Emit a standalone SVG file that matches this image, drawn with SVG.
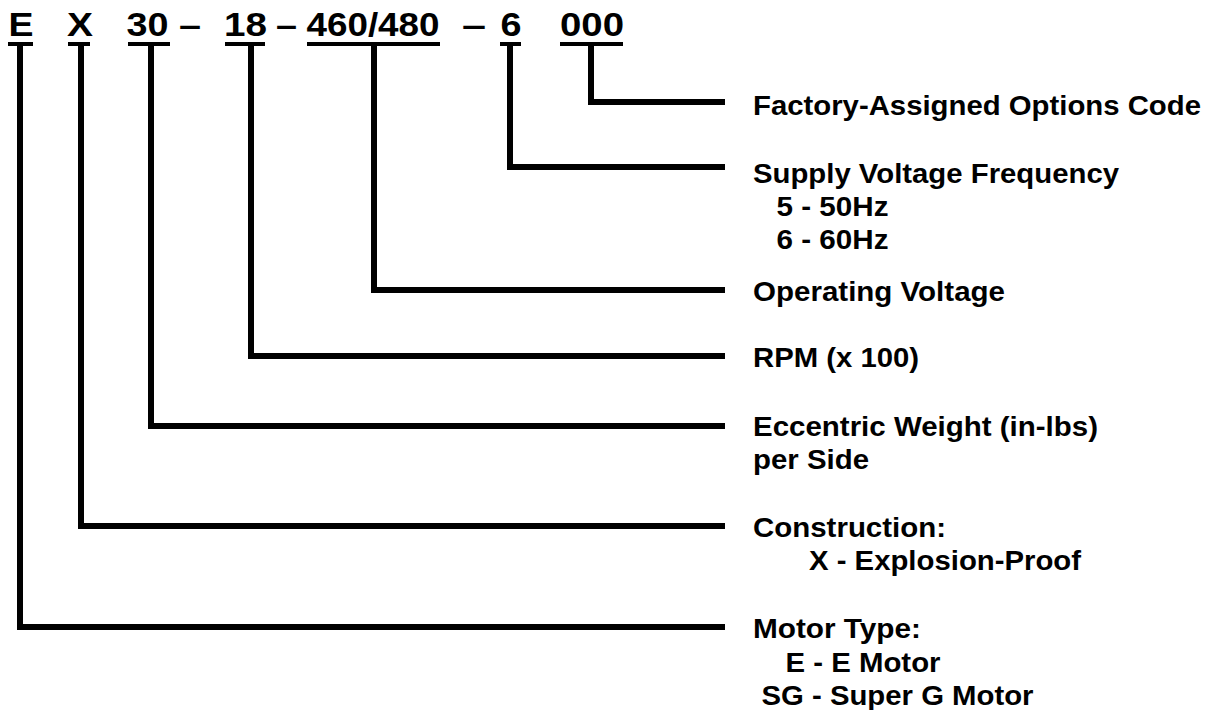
<svg xmlns="http://www.w3.org/2000/svg" width="1215" height="710" viewBox="0 0 1215 710">
<style>
.code{font-family:"Liberation Sans",Arial,sans-serif;font-weight:bold;font-size:33px;fill:#000}
.lbl{font-family:"Liberation Sans",Arial,sans-serif;font-weight:bold;font-size:28px;fill:#000}
.ul{fill:#000}
.conn{fill:none;stroke:#000;stroke-width:6;stroke-linejoin:miter;stroke-linecap:butt}
</style>
<rect width="1215" height="710" fill="#fff"/>
<g id="code">
  <g id="seg-E"><text class="code" x="8.5" y="36" textLength="25" lengthAdjust="spacingAndGlyphs">E</text><rect class="ul" x="8" y="42" width="25" height="4"/></g>
  <g id="seg-X"><text class="code" x="67" y="36" textLength="26" lengthAdjust="spacingAndGlyphs">X</text><rect class="ul" x="68" y="42" width="22" height="4"/></g>
  <g id="seg-30"><text class="code" x="126.5" y="36" textLength="42" lengthAdjust="spacingAndGlyphs">30</text><rect class="ul" x="128" y="42" width="42" height="4"/></g>
  <text class="code" x="179" y="36" textLength="22" lengthAdjust="spacingAndGlyphs">–</text>
  <g id="seg-18"><text class="code" x="224" y="36" textLength="43" lengthAdjust="spacingAndGlyphs">18</text><rect class="ul" x="225" y="42" width="40" height="4"/></g>
  <text class="code" x="276" y="36" textLength="21" lengthAdjust="spacingAndGlyphs">–</text>
  <g id="seg-460"><text class="code" x="306.5" y="36" textLength="133" lengthAdjust="spacingAndGlyphs">460/480</text><rect class="ul" x="307" y="42" width="133" height="4"/></g>
  <text class="code" x="462" y="36" textLength="24" lengthAdjust="spacingAndGlyphs">–</text>
  <g id="seg-6"><text class="code" x="500.5" y="36" textLength="21" lengthAdjust="spacingAndGlyphs">6</text><rect class="ul" x="500" y="42" width="21" height="4"/></g>
  <g id="seg-000"><text class="code" x="560" y="36" textLength="64" lengthAdjust="spacingAndGlyphs">000</text><rect class="ul" x="560" y="42" width="63" height="4"/></g>
</g>
<g id="connectors">
  <polyline class="conn" points="591,46 591,102 725,102"/>
  <polyline class="conn" points="510,46 510,167 725,167"/>
  <polyline class="conn" points="374,46 374,290 725,290"/>
  <polyline class="conn" points="251,46 251,356 725,356"/>
  <polyline class="conn" points="151,46 151,426 725,426"/>
  <polyline class="conn" points="81,46 81,526 725,526"/>
  <polyline class="conn" points="20,46 20,627 725,627"/>
</g>
<g id="lbl-options"><text class="lbl" x="753" y="115" textLength="448" lengthAdjust="spacingAndGlyphs">Factory-Assigned Options Code</text></g>
<g id="lbl-frequency">
  <text class="lbl" x="753" y="183" textLength="366" lengthAdjust="spacingAndGlyphs">Supply Voltage Frequency</text>
  <text class="lbl" x="776.5" y="216" textLength="112" lengthAdjust="spacingAndGlyphs">5 - 50Hz</text>
  <text class="lbl" x="776.5" y="249" textLength="112" lengthAdjust="spacingAndGlyphs">6 - 60Hz</text>
</g>
<g id="lbl-voltage"><text class="lbl" x="753" y="301" textLength="252" lengthAdjust="spacingAndGlyphs">Operating Voltage</text></g>
<g id="lbl-rpm"><text class="lbl" x="753" y="367" textLength="166" lengthAdjust="spacingAndGlyphs">RPM (x 100)</text></g>
<g id="lbl-weight">
  <text class="lbl" x="753" y="436" textLength="345" lengthAdjust="spacingAndGlyphs">Eccentric Weight (in-lbs)</text>
  <text class="lbl" x="753" y="469" textLength="116" lengthAdjust="spacingAndGlyphs">per Side</text>
</g>
<g id="lbl-construction">
  <text class="lbl" x="753" y="537" textLength="193" lengthAdjust="spacingAndGlyphs">Construction:</text>
  <text class="lbl" x="809" y="570" textLength="272" lengthAdjust="spacingAndGlyphs">X - Explosion-Proof</text>
</g>
<g id="lbl-motor">
  <text class="lbl" x="753" y="638" textLength="168" lengthAdjust="spacingAndGlyphs">Motor Type:</text>
  <text class="lbl" x="785.5" y="672" textLength="155" lengthAdjust="spacingAndGlyphs">E - E Motor</text>
  <text class="lbl" x="761.5" y="705" textLength="272" lengthAdjust="spacingAndGlyphs">SG - Super G Motor</text>
</g>
</svg>
